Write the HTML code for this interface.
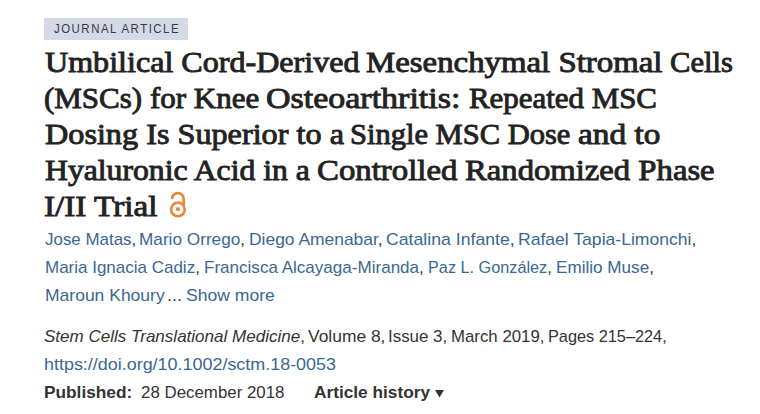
<!DOCTYPE html>
<html><head><meta charset="utf-8">
<style>
html,body{margin:0;padding:0;background:#fff;width:760px;height:414px;overflow:hidden;}
body{position:relative;font-family:"Liberation Sans",sans-serif;}
.lbl{position:absolute;left:44px;top:18px;width:144px;height:22px;background:#d4d9e7;}
.lbl span{position:absolute;left:9.5px;top:-0.5px;line-height:22px;font-size:13px;letter-spacing:1.7px;color:#3a3a42;transform:scaleX(0.88);transform-origin:0 0;white-space:nowrap;}
.t{position:absolute;font-family:"Liberation Serif",serif;font-weight:normal;-webkit-text-stroke:0.9px #222;font-size:30px;color:#222;white-space:nowrap;line-height:36px;transform-origin:0 0;}
.s{position:absolute;font-size:17px;line-height:28px;white-space:nowrap;transform-origin:0 0;}
.a{color:#3a6891;}
.k{color:#333;}
.oa{position:absolute;left:164px;top:188px;}
.tri{position:absolute;left:434px;top:389px;}
</style></head><body>
<div class="lbl"><span>JOURNAL ARTICLE</span></div>
<svg class="oa" width="28" height="32" viewBox="0 0 28 32">
<path d="M8.0 10.9 A5.85 5.85 0 0 1 19.7 10.9 V17" fill="none" stroke="#e6893a" stroke-width="2.7"/>
<circle cx="13.9" cy="21.45" r="6.8" fill="none" stroke="#e6893a" stroke-width="2.7"/>
<circle cx="13.85" cy="21.2" r="2.1" fill="#e6893a"/>
</svg>
<div class="t" style="left:44.90px;top:44px;transform:scaleX(1.0694)">Umbilical Cord-Derived</div>
<div class="t" style="left:366.30px;top:44px;transform:scaleX(1.0948)">Mesenchymal Stromal</div>
<div class="t" style="left:669.78px;top:44px;transform:scaleX(1.0200)">Cells</div>
<div class="t" style="left:44.37px;top:80px;transform:scaleX(1.0329)">(MSCs) for Knee</div>
<div class="t" style="left:266.27px;top:80px;transform:scaleX(1.1325)">Osteoarthritis:</div>
<div class="t" style="left:468.70px;top:80px;transform:scaleX(1.0298)">Repeated MSC</div>
<div class="t" style="left:45.10px;top:116px;transform:scaleX(1.0741)">Dosing Is Superior to a</div>
<div class="t" style="left:350.37px;top:116px;transform:scaleX(1.0168)">Single MSC Dose</div>
<div class="t" style="left:577.59px;top:116px;transform:scaleX(1.1110)">and to</div>
<div class="t" style="left:45.00px;top:152px;transform:scaleX(1.0562)">Hyaluronic Acid in a</div>
<div class="t" style="left:316.81px;top:152px;transform:scaleX(1.0937)">Controlled</div>
<div class="t" style="left:465.00px;top:152px;transform:scaleX(1.0895)">Randomized Phase</div>
<div class="t" style="left:43.89px;top:188px;transform:scaleX(1.1069)">I/II Trial</div>
<div class="s a" style="left:44.50px;top:226px;transform:scaleX(0.9956)">Jose Matas<span class="k">,</span></div>
<div class="s a" style="left:138.89px;top:226px;transform:scaleX(1.0117)">Mario Orrego<span class="k">,</span></div>
<div class="s a" style="left:248.88px;top:226px;transform:scaleX(1.0250)">Diego Amenabar<span class="k">,</span></div>
<div class="s a" style="left:385.66px;top:226px;transform:scaleX(1.0397)">Catalina Infante<span class="k">,</span></div>
<div class="s a" style="left:518.07px;top:226px;transform:scaleX(1.0329)">Rafael Tapia-Limonchi<span class="k">,</span></div>
<div class="s a" style="left:44.60px;top:254px;transform:scaleX(0.9993)">Maria Ignacia Cadiz<span class="k">,</span></div>
<div class="s a" style="left:203.90px;top:254px;transform:scaleX(1.0028)">Francisca Alcayaga-Miranda<span class="k">,</span></div>
<div class="s a" style="left:427.94px;top:254px;transform:scaleX(0.9559)">Paz L. González<span class="k">,</span></div>
<div class="s a" style="left:555.69px;top:254px;transform:scaleX(1.0063)">Emilio Muse<span class="k">,</span></div>
<div class="s a" style="left:44.57px;top:282px;transform:scaleX(1.0296)">Maroun Khoury</div>
<div class="s k" style="left:167.17px;top:282px;transform:scaleX(1.0636)">...</div>
<div class="s a" style="left:186.07px;top:282px;transform:scaleX(1.0333)">Show more</div>
<div class="s k" style="left:43.80px;top:323px;transform:scaleX(1.0019)"><i>Stem Cells Translational Medicine</i>,</div>
<div class="s k" style="left:308.30px;top:323px;transform:scaleX(1.0243)">Volume 8,</div>
<div class="s k" style="left:387.91px;top:323px;transform:scaleX(0.9946)">Issue 3,</div>
<div class="s k" style="left:450.91px;top:323px;transform:scaleX(0.9891)">March 2019,</div>
<div class="s k" style="left:548.04px;top:323px;transform:scaleX(0.9587)">Pages 215–224,</div>
<div class="s a" style="left:43.95px;top:351px;transform:scaleX(1.0545)">https://doi.org/10.1002/sctm.18-0053</div>
<div class="s k" style="left:44.48px;top:379px;transform:scaleX(1.0155)"><b>Published:</b></div>
<div class="s k" style="left:140.91px;top:379px;transform:scaleX(0.9923)">28 December 2018</div>
<div class="s k" style="left:313.98px;top:379px;transform:scaleX(1.0150)"><b>Article history</b></div>
<svg class="tri" width="12" height="10" viewBox="0 0 12 10"><polygon points="1,1 10,1 5.5,8.4" fill="#333"/></svg>
</body></html>
